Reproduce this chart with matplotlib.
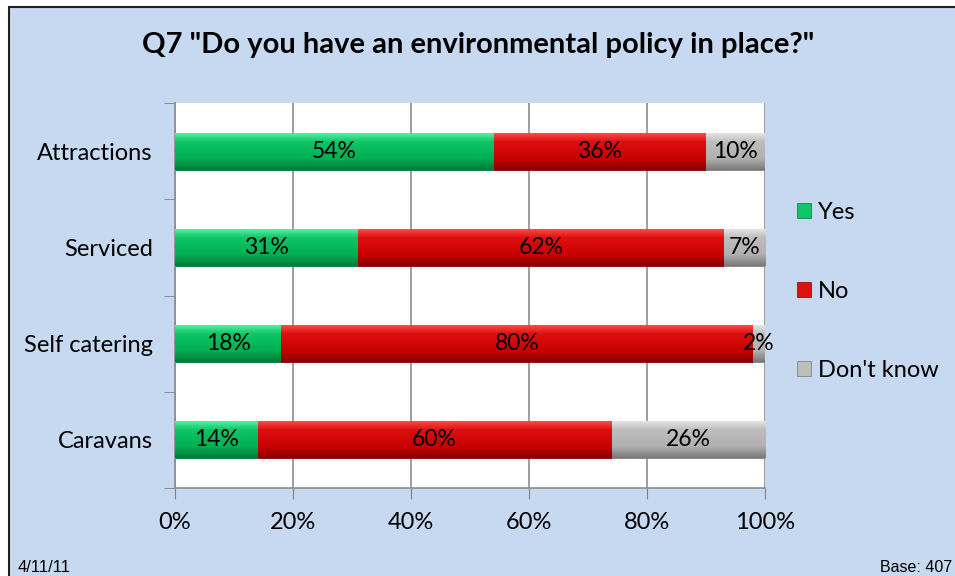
import numpy as np
import matplotlib
matplotlib.use("Agg")
import matplotlib.pyplot as plt
from matplotlib.colors import LinearSegmentedColormap
from matplotlib.patches import Rectangle, Patch

# data
categories = ["Attractions", "Serviced", "Self catering", "Caravans"]
series_names = ["Yes", "No", "Don't know"]
yes_vals = [54, 31, 18, 14]
no_vals = [36, 62, 80, 60]
dk_vals = [10, 7, 2, 26]
xticks = [0, 20, 40, 60, 80, 100]

# light top / mid / dark bottom for the glossy excel look
shades = {
    "Yes": ["#5df5a6", "#10c468", "#00b050", "#007a3a"],
    "No": ["#ff5050", "#de1010", "#c80000", "#8a0000"],
    "Don't know": ["#e8e8e8", "#bdbdbd", "#b0b0b0", "#7a7a7a"],
}

plt.rcParams["font.family"] = ["Lato", "DejaVu Sans"]

BG = "#c6d9f0"
fig = plt.figure(figsize=(9.55, 5.76), dpi=100)
fig.patch.set_facecolor("white")
# blue chart area with dark frame (cut by image edge on right / bottom)
fig.patches.append(Rectangle((9 / 955, -0.05), 1.1, 1 - 7 / 576 + 0.05,
                             transform=fig.transFigure, facecolor=BG,
                             edgecolor="#202020", linewidth=1.5, zorder=-5))

ax = fig.add_axes([175 / 955, 1 - 488 / 576, 590 / 955, 385 / 576])
ax.set_facecolor("white")

ypos = np.arange(len(categories))
bar_h = 0.385


def glossy(ax, bars, cols):
    cmap = LinearSegmentedColormap.from_list("g", [(0, cols[0]), (0.25, cols[1]),
                                                   (0.7, cols[2]), (1, cols[3])])
    grad = np.linspace(0, 1, 64).reshape(-1, 1)
    for b in bars:
        x0, y0 = b.get_x(), b.get_y()
        w, h = b.get_width(), b.get_height()
        if w <= 0:
            continue
        # y axis is inverted, so image row 0 sits at the top of the bar
        im = ax.imshow(grad, cmap=cmap, aspect="auto", extent=(x0, x0 + w, y0 + h, y0),
                       zorder=3, interpolation="bilinear")
        im.set_clip_path(b)


left = np.zeros(len(categories))
for name, vals in zip(series_names, [yes_vals, no_vals, dk_vals]):
    vals = np.array(vals, dtype=float)
    bars = ax.barh(ypos, vals, left=left, height=bar_h, color=shades[name][2],
                   edgecolor=shades[name][3], linewidth=0.6, zorder=2, label=name)
    glossy(ax, bars, shades[name])
    for b, v in zip(bars, vals):
        ax.text(b.get_x() + b.get_width() / 2, b.get_y() + b.get_height() / 2,
                "%d%%" % v, ha="center", va="center", fontsize=16.5, color="black", zorder=5)
    left += vals

ax.set_xlim(0, 100)
ax.set_ylim(len(categories) - 0.5, -0.5)
ax.set_xticks(xticks)
ax.set_xticklabels(["%d%%" % t for t in xticks], fontsize=17)
ax.set_yticks(ypos)
ax.set_yticklabels(categories, fontsize=17)
ax.set_yticks(np.arange(len(categories) + 1) - 0.5, minor=True)
ax.tick_params(axis="y", which="major", length=0, pad=16)
ax.tick_params(axis="y", which="minor", length=8, color="#808080", direction="out")
ax.tick_params(axis="x", length=8, color="#808080", direction="out", pad=9)
ax.grid(axis="x", color="#8c8c8c", linewidth=1.2, zorder=0)
ax.set_axisbelow(True)
for s in ["top", "right"]:
    ax.spines[s].set_visible(False)
for s in ["left", "bottom"]:
    ax.spines[s].set_color("#8c8c8c")
    ax.spines[s].set_linewidth(1.2)

fig.text(478 / 955, 1 - 45 / 576, 'Q7 "Do you have an environmental policy in place?"',
         ha="center", va="center", fontsize=21, fontweight="bold")

handles = [Patch(facecolor=shades[n][1], edgecolor=shades[n][3], linewidth=0.5) for n in series_names]
fig.legend(handles, series_names, loc="upper left", bbox_to_anchor=(797 / 955, 1 - 202 / 576),
           frameon=False, fontsize=17, labelspacing=2.45, handlelength=0.6, handleheight=0.6,
           handletextpad=0.3, borderaxespad=0, borderpad=0)

fig.text(18 / 955, 1 - 567 / 576, "4/11/11", fontsize=12, va="center", ha="left",
         family=["Liberation Sans", "DejaVu Sans"])
fig.text(952 / 955, 1 - 567 / 576, "Base: 407", fontsize=11.5, va="center", ha="right",
         family=["Liberation Sans", "DejaVu Sans"])

fig.savefig("out.png", dpi=100, facecolor=fig.get_facecolor())
